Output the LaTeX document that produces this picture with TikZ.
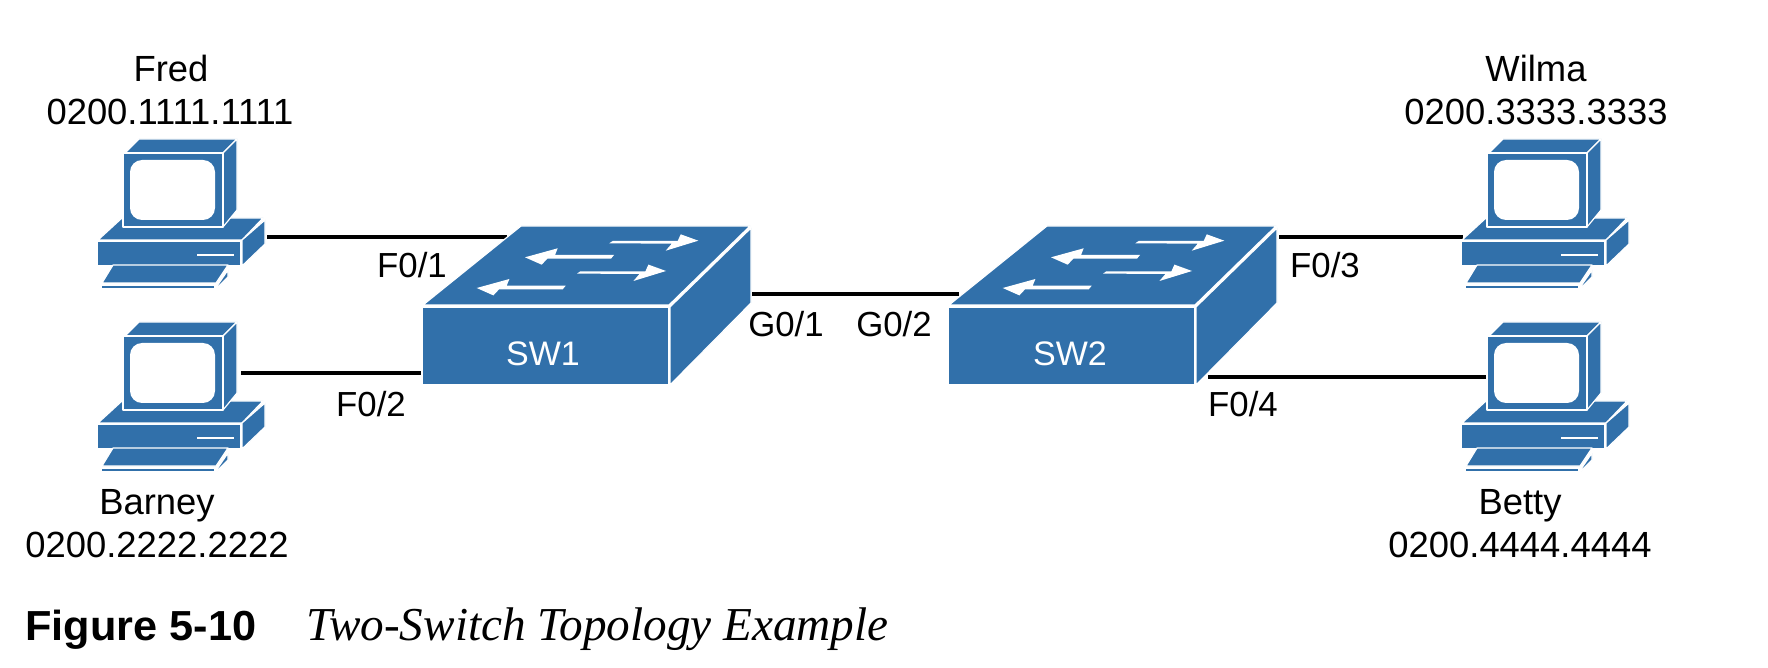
\documentclass[tikz,border=0pt]{standalone}
\usepackage{fontspec}
\setmainfont{Liberation Sans}
\newfontfamily\capbold[FakeStretch=1.03]{Liberation Sans Bold}
\newfontfamily\capital{Liberation Serif Italic}
\usetikzlibrary{arrows.meta,calc}
\definecolor{netblue}{RGB}{49,112,170}
\tikzset{
 face/.style={fill=netblue,draw=white,line width=0.6pt,line join=round},
 pcicon/.pic={
  \draw[face] (1,101) -- (25,79) -- (166,79) -- (145,101) -- cycle;
  \draw[face] (28,14) -- (42,0) -- (140,0) -- (126,14) -- cycle;
  \draw[face] (126,14) -- (140,0) -- (140,71) -- (126,88) -- cycle;
  \draw[face] (26,14) rectangle (126,88);
  \fill[white,rounded corners=6] (33,21) rectangle (118,81);
  \draw[face] (0,102) rectangle (144,127);
  \draw[face] (145,101) -- (168,81) -- (168,105) -- (145,127) -- cycle;
  \draw[white,line width=1.2pt] (100,116) -- (137,116);
  \draw[face] (5,144) -- (16,126) -- (131,126) -- (119,144) -- cycle;
  \draw[face] (120,147) -- (131,131) -- (131,138) -- (120,149) -- cycle;
  \draw[face] (4,146) rectangle (118,150);
 },
 switchicon/.pic={
  \draw[face] (1,0) -- (99,-79) -- (328,-79) -- (247,0) -- cycle;
  \draw[face] (248,2) -- (329,-77) -- (329,-2) -- (248,80) -- cycle;
  \draw[face] (0,2) rectangle (247,80);
  \foreach \dx/\dy in {0/0,-32.3/30.3}
   \fill[white,shift={(\dx,\dy)}] (187.3,-61.7) -- (190.7,-64) -- (255.7,-64) -- (258.7,-70.7)
    -- (276.3,-64.3) -- (243.7,-54.3) -- (249.7,-61.3) -- cycle;
  \foreach \dx/\dy in {0/0,-48.3/30.7}
   \fill[white,shift={(\dx,\dy)}] (103,-47.7) -- (135.7,-56.7) -- (133,-50) -- (192,-50)
    -- (189,-46.3) -- (125.3,-46.3) -- (119.7,-40.3) -- cycle;
 },
}
\begin{document}
\begin{tikzpicture}[x=0.5pt,y=-0.5pt,font=\fontsize{18.2}{20}\selectfont,
 lnk/.style={line width=1.8pt},
 portname/.style={font=\fontsize{17.4}{20}\selectfont},
 swname/.style={text=white,font=\fontsize{17}{20}\selectfont}]
\useasboundingbox (0,0) rectangle (1768,668);
\coordinate (fredport) at (267,237);
\coordinate (sw1nw) at (507,237);
\coordinate (barneyport) at (241,373);
\coordinate (sw1w) at (421,373);
\coordinate (sw1e) at (752,294);
\coordinate (sw2w) at (959,294);
\coordinate (sw2ne) at (1279,237);
\coordinate (wilmaport) at (1463,237);
\coordinate (sw2se) at (1208,377);
\coordinate (bettyport) at (1486,377);
\draw[lnk] (fredport) -- (sw1nw);
\draw[lnk] (barneyport) -- (sw1w);
\draw[lnk] (sw1e) -- (sw2w);
\draw[lnk] (sw2ne) -- (wilmaport);
\draw[lnk] (sw2se) -- (bettyport);
\pic at (97,139) {pcicon};
\pic at (97,322) {pcicon};
\pic at (1461,139) {pcicon};
\pic at (1461,322) {pcicon};
\pic at (422,305) {switchicon};
\pic at (948,305) {switchicon};
\node (fredname) at (171,68) {Fred};
\node (fredmac) at (170,112) {0200.1111.1111};
\node (barneyname) at (157,506) {Barney};
\node (barneymac) at (157,545) {0200.2222.2222};
\node (wilmaname) at (1536,68) {Wilma};
\node (wilmamac) at (1536,112) {0200.3333.3333};
\node (bettyname) at (1520,506) {Betty};
\node (bettymac) at (1520,545) {0200.4444.4444};
\node[portname] (fa) at (412,265) {F0/1};
\node[portname] (fb) at (371,404) {F0/2};
\node[portname] (ga) at (786,324) {G0/1};
\node[portname] (gb) at (894,324) {G0/2};
\node[portname] (fc) at (1325,265) {F0/3};
\node[portname] (fd) at (1243,404) {F0/4};
\node[swname] (sw1name) at (543,354) {SW1};
\node[swname] (sw2name) at (1070,354) {SW2};
\node[anchor=base west,inner sep=0pt,font=\capbold\fontsize{21}{22}\selectfont] (figno) at (25,640) {Figure 5-10};
\node[anchor=base west,inner sep=0pt,font=\capital\fontsize{23.6}{24}\selectfont] (figtitle) at (306,640) {Two-Switch Topology Example};
\end{tikzpicture}
\end{document}
